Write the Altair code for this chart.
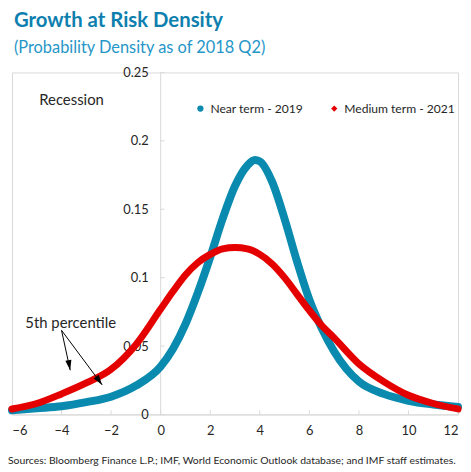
import altair as alt
import pandas as pd

# ---- data ----
series_names = ["Near term - 2019", "Medium term - 2021"]

near_x = [-6, -5, -4, -3, -2, -1, 0, 0.5, 1, 1.5, 2, 2.5, 3, 3.5, 3.8, 4, 4.5, 5, 5.5, 6, 6.5, 7, 8, 9, 10, 11, 12]
near_y = [0.003, 0.0045, 0.006, 0.009, 0.013, 0.021, 0.035, 0.048, 0.066, 0.089, 0.115, 0.143, 0.167, 0.182, 0.186,
          0.185, 0.170, 0.143, 0.112, 0.084, 0.063, 0.046, 0.024, 0.015, 0.010, 0.0073, 0.0055]

medium_x = [-6, -5, -4, -3, -2, -1, 0, 0.5, 1, 1.5, 2, 2.5, 3, 3.5, 4, 4.5, 5, 5.5, 6, 6.5, 7, 8, 9, 10, 11, 12]
medium_y = [0.004, 0.008, 0.015, 0.023, 0.033, 0.051, 0.077, 0.090, 0.102, 0.111, 0.117, 0.121, 0.122, 0.121,
            0.117, 0.110, 0.100, 0.088, 0.076, 0.065, 0.056, 0.037, 0.024, 0.014, 0.008, 0.004]

x_ticks = [-6, -4, -2, 0, 2, 4, 6, 8, 10, 12]
y_ticks = [0, 0.05, 0.1, 0.15, 0.2, 0.25]

# annotations (data coordinates)
label_text = ["Recession", "5th percentile"]
label_x = [-4.9, -3.63]
label_y = [0.230, 0.067]

arrow_x0 = [-4.0, -4.0]
arrow_y0 = [0.0615, 0.0615]
arrow_x1 = [-3.65, -2.36]
arrow_y1 = [0.0323, 0.0216]
arrow_angle = [349.6, 324.2]

source_text = "Sources: Bloomberg Finance L.P.; IMF, World Economic Outlook database; and IMF staff estimates."

TEAL = "#0A8AAE"
RED = "#E50000"
FONT = "Lato"
TXT = "#262626"

df = pd.concat([
    pd.DataFrame({"x": near_x, "y": near_y, "series": series_names[0], "order": 0}),
    pd.DataFrame({"x": medium_x, "y": medium_y, "series": series_names[1], "order": 1}),
])

xs = alt.Scale(domain=[-6, 12], nice=False, zero=False)
ys = alt.Scale(domain=[0, 0.25], nice=False)
color_scale = alt.Scale(domain=series_names, range=[TEAL, RED])
shape_scale = alt.Scale(domain=series_names, range=["circle", "diamond"])

base = alt.Chart(df)

x_enc = alt.X("x:Q", scale=xs, axis=alt.Axis(values=x_ticks, format="d", grid=False, ticks=False, tickSize=0,
                                             domainColor="#D9D9D9", labelFont=FONT, labelFontSize=13,
                                             labelColor=TXT, labelPadding=10, title=None))
y_enc = alt.Y("y:Q", scale=ys, axis=alt.Axis(values=y_ticks, format="~g", grid=False, ticks=False, tickSize=0,
                                             domainColor="#D9D9D9", labelFont=FONT, labelFontSize=13,
                                             labelColor=TXT, labelPadding=12, offset=-149.5, title=None))

near_line = base.transform_filter(alt.datum.order == 0).mark_line(
    strokeWidth=8, strokeCap="round", interpolate="monotone"
).encode(x=x_enc, y=y_enc, color=alt.Color("series:N", scale=color_scale, legend=None))

med_line = base.transform_filter(alt.datum.order == 1).mark_line(
    strokeWidth=7, strokeCap="round", interpolate="monotone"
).encode(x="x:Q", y="y:Q", color=alt.Color("series:N", scale=color_scale, legend=None))

lines = alt.layer(near_line, med_line)

leg = alt.Legend(orient="none", legendX=184, legendY=30, direction="horizontal",
                 columns=2, columnPadding=24, symbolOpacity=1, title=None,
                 labelFont=FONT, labelFontSize=12.2, labelColor=TXT,
                 symbolSize=40, labelOffset=4, padding=0)

legend_pts = base.mark_point(filled=True, opacity=0).encode(
    x="x:Q", y="y:Q",
    color=alt.Color("series:N", scale=color_scale, legend=leg),
    shape=alt.Shape("series:N", scale=shape_scale, legend=leg),
)

xt = alt.Chart(pd.DataFrame({"t": x_ticks})).mark_rule(color="#D9D9D9", strokeWidth=1).encode(
    x=alt.X("t:Q", scale=xs), y=alt.value(345), y2=alt.value(341))
yt = alt.Chart(pd.DataFrame({"t": y_ticks})).mark_rule(color="#D9D9D9", strokeWidth=1).encode(
    y=alt.Y("t:Q", scale=ys), x=alt.value(149.5), x2=alt.value(154))

labels_rec = alt.Chart(pd.DataFrame({"text": label_text[:1], "x": label_x[:1], "y": label_y[:1]})).mark_text(
    font=FONT, fontSize=15, color=TXT, baseline="middle", align="left"
).encode(x=alt.X("x:Q", scale=xs), y=alt.Y("y:Q", scale=ys), text="text:N")
labels_pct = alt.Chart(pd.DataFrame({"text": label_text[1:], "x": label_x[1:], "y": label_y[1:]})).mark_text(
    font=FONT, fontSize=15, color=TXT, baseline="middle", align="center"
).encode(x=alt.X("x:Q", scale=xs), y=alt.Y("y:Q", scale=ys), text="text:N")

arrows_df = pd.DataFrame({"x0": arrow_x0, "y0": arrow_y0, "x1": arrow_x1, "y1": arrow_y1, "ang": arrow_angle})
arrow_lines = alt.Chart(arrows_df).mark_rule(color="black", strokeWidth=1).encode(
    x=alt.X("x0:Q", scale=xs), y=alt.Y("y0:Q", scale=ys), x2="x1:Q", y2="y1:Q")
arrow_heads = alt.Chart(arrows_df).mark_point(
    shape="M0,0L-0.3,-1L0.3,-1Z", filled=True, color="black", opacity=1, size=420, strokeWidth=0
).encode(x=alt.X("x1:Q", scale=xs), y=alt.Y("y1:Q", scale=ys), angle=alt.Angle("ang:Q", scale=None))

source = alt.Chart(pd.DataFrame({"text": [source_text]})).mark_text(
    font=FONT, fontSize=10.5, color=TXT, align="left", baseline="middle"
).encode(x=alt.value(-4), y=alt.value(392), text="text:N")

chart = alt.layer(
    xt, yt, lines, legend_pts, labels_rec, labels_pct, arrow_lines, arrow_heads, source
).resolve_scale(color="independent", shape="independent").properties(
    width=450, height=345,
    autosize=alt.AutoSizeParams(type="none"),
    padding={"left": 4, "top": 63, "right": 5, "bottom": 50},
    title=alt.Title("Growth at Risk Density", subtitle="(Probability Density as of 2018 Q2)",
                    anchor="start", frame="group", font=FONT, fontSize=20.5, fontWeight="bold", color="#0E7FAE",
                    subtitleFont=FONT, subtitleFontSize=16.5, subtitleColor="#2596C8",
                    subtitlePadding=9, offset=10, dx=2),
).configure_view(stroke="#D9D9D9", strokeWidth=1)

chart.save("out.html", embed_options={"renderer": "svg", "actions": False})
